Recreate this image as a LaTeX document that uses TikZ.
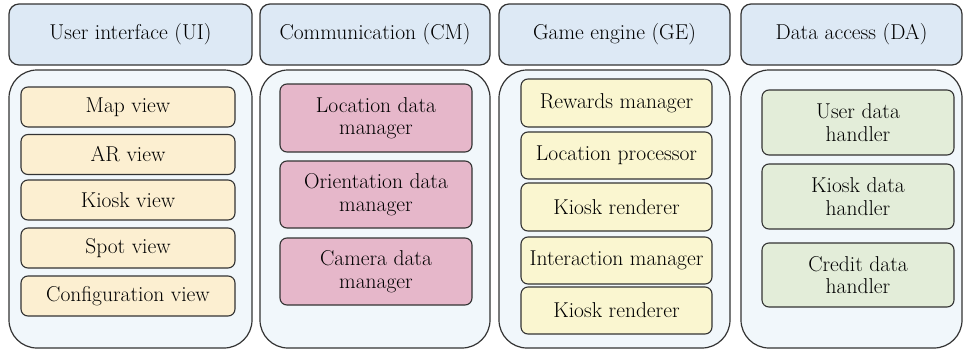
\documentclass[tikz,border=0pt]{standalone}
\definecolor{hdrfill}{HTML}{DDE9F5}
\definecolor{boxfill}{HTML}{F1F7FB}
\definecolor{uifill}{HTML}{FCEFD1}
\definecolor{cmfill}{HTML}{E6B7CA}
\definecolor{gefill}{HTML}{FAF6D0}
\definecolor{dafill}{HTML}{E3EDD9}
\definecolor{edge}{HTML}{333333}
\begin{document}
\begin{tikzpicture}[x=1pt,y=-1pt,
  every node/.style={font=\fontsize{21.5}{22.5}\selectfont, align=center, inner sep=0pt, outer sep=0pt},
  hdr/.style={draw=edge, line width=1.2pt, fill=hdrfill, rounded corners=10pt, minimum height=61pt},
  container/.style={draw=edge, line width=1.2pt, fill=boxfill, rounded corners=28pt, minimum height=278pt},
  item/.style={draw=edge, line width=1.1pt, rounded corners=7pt},
  uiitem/.style={item, fill=uifill, minimum width=214pt, minimum height=40pt},
  cmitem/.style={item, fill=cmfill, minimum width=192pt, minimum height=67pt},
  geitem/.style={item, fill=gefill, minimum width=191pt, minimum height=47pt},
  daitem/.style={item, fill=dafill, minimum width=192pt, minimum height=65pt}]
\useasboundingbox (0,0) rectangle (966,351);
% headers
\node[hdr, minimum width=243pt] (uih) at (130.5,34.5) {User interface (UI)};
\node[hdr, minimum width=230pt] (cmh) at (375,34.5) {Communication (CM)};
\node[hdr, minimum width=231pt] (geh) at (614.5,34.5) {Game engine (GE)};
\node[hdr, minimum width=221pt] (dah) at (851.5,34.5) {Data access (DA)};
% containers
\node[container, minimum width=243pt] (uic) at (130.5,209) {};
\node[container, minimum width=230pt] (cmc) at (375,209) {};
\node[container, minimum width=231pt] (gec) at (614.5,209) {};
\node[container, minimum width=221pt] (dac) at (851.5,209) {};
% UI items
\node[uiitem] (ui1) at (128,107) {Map view};
\node[uiitem] (ui2) at (128,154.5) {AR view};
\node[uiitem] (ui3) at (128,200) {Kiosk view};
\node[uiitem] (ui4) at (128,248) {Spot view};
\node[uiitem] (ui5) at (128,296) {Configuration view};
% CM items
\node[cmitem, minimum height=68pt] (cm1) at (376,118) {Location data\\manager};
\node[cmitem] (cm2) at (376,194.5) {Orientation data\\manager};
\node[cmitem] (cm3) at (376,271.5) {Camera data\\manager};
% GE items
\node[geitem, minimum height=48pt] (ge1) at (616.5,103) {Rewards manager};
\node[geitem] (ge2) at (616.5,155.5) {Location processor};
\node[geitem, minimum height=48pt] (ge3) at (616.5,207) {Kiosk renderer};
\node[geitem] (ge4) at (616.5,260.5) {Interaction manager};
\node[geitem] (ge5) at (616.5,310.5) {Kiosk renderer};
% DA items
\node[daitem] (da1) at (858,122.5) {User data\\handler};
\node[daitem] (da2) at (858,196.5) {Kiosk data\\handler};
\node[daitem, minimum height=64pt] (da3) at (858,275) {Credit data\\handler};
\end{tikzpicture}
\end{document}
